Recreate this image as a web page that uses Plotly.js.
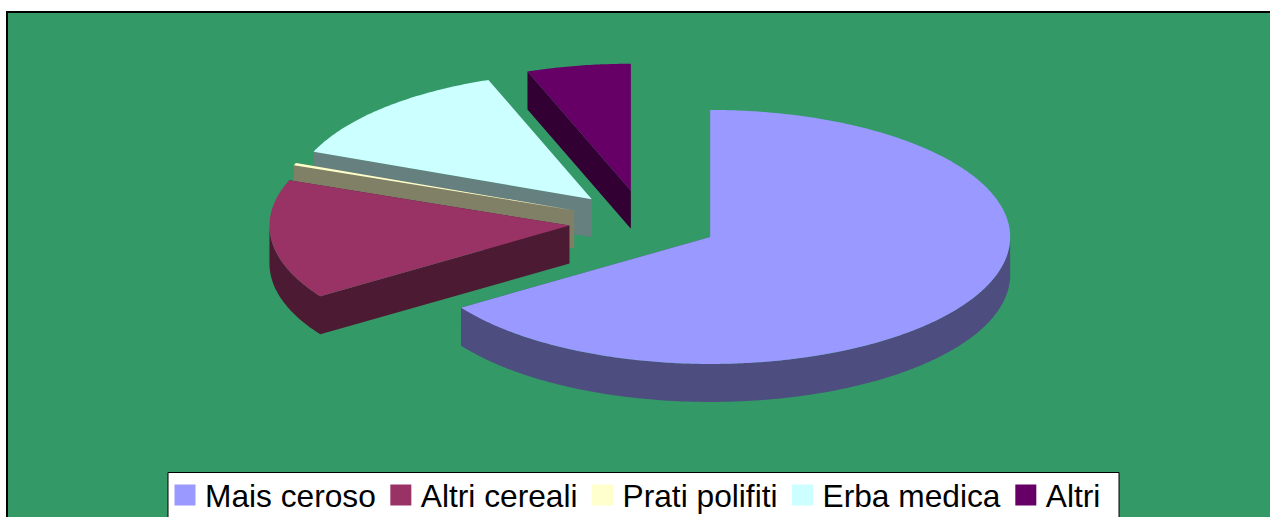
<!DOCTYPE html>
<html><head><meta charset="utf-8">
<script src="https://cdn.plot.ly/plotly-3.0.1.min.js"></script>
<style>html,body{margin:0;padding:0;background:#fff;overflow:hidden}</style>
</head><body><div id="chart" style="width:1270px;height:517px"></div>
<script>
const categories = ['Mais ceroso','Altri cereali','Prati polifiti','Erba medica','Altri'];
const values = [65.6,15.2,0.3,13.3,5.6];
const topColors = ['#9999FF','#993366','#FFFFCC','#CCFFFF','#660066'];
const wallColors = ['#4D4D80','#4D1A33','#808066','#668080','#330033'];
const drawOrder = [4,3,2,1,0];

// pie projection
const cx=644, cy=222, rx=300, ry=127, depth=38, explode=0.25;
const total = values.reduce((a,b)=>a+b,0);
const slices=[]; let acc=0;
values.forEach(v=>{const t0=acc/total*2*Math.PI; acc+=v; const t1=acc/total*2*Math.PI; const m=(t0+t1)/2;
  slices.push({t0,t1,ax:cx+explode*rx*Math.sin(m),ay:cy-explode*ry*Math.cos(m)});});
const rim=(s,t,d)=>[s.ax+rx*Math.sin(t), s.ay-ry*Math.cos(t)+(d||0)];
function arc(s,a,b,d){const out=[],n=Math.max(2,Math.ceil((b-a)/0.01));
  for(let i=0;i<=n;i++) out.push(rim(s,a+(b-a)*i/n,d)); return out;}
function toXY(paths){const x=[],y=[];paths.forEach((p,i)=>{if(i){x.push(null);y.push(null);}
  p.forEach(q=>{x.push(q[0]);y.push(q[1]);}); x.push(p[0][0]);y.push(p[0][1]);}); return {x,y};}

const traces=[];
drawOrder.forEach(i=>{const s=slices[i];
  const walls=[];
  [s.t0,s.t1].forEach(t=>{const r=rim(s,t);
    walls.push([[s.ax,s.ay],r,[r[0],r[1]+depth],[s.ax,s.ay+depth]]);});
  const a=Math.max(s.t0,Math.PI/2), b=Math.min(s.t1,Math.PI*1.5);
  if(b>a) walls.push(arc(s,a,b,0).concat(arc(s,a,b,depth).reverse()));
  traces.push(Object.assign({type:'scatter',mode:'none',fill:'toself',fillcolor:wallColors[i],showlegend:false,hoverinfo:'skip'},toXY(walls)));
  traces.push(Object.assign({type:'scatter',mode:'none',fill:'toself',fillcolor:topColors[i],showlegend:false,name:categories[i]},
    toXY([[[s.ax,s.ay]].concat(arc(s,s.t0,s.t1,0))])));
});
categories.forEach((c,i)=>traces.push({type:'scatter',mode:'markers',x:[null],y:[null],name:c,
  marker:{symbol:'square',size:16,color:topColors[i],line:{width:5,color:topColors[i]}},showlegend:true}));

const layout={width:1270,height:517,margin:{l:0,r:0,t:0,b:0,autoexpand:false},paper_bgcolor:'#fff',plot_bgcolor:'#fff',
  xaxis:{range:[0,1270],visible:false,fixedrange:true},
  yaxis:{range:[517,0],visible:false,fixedrange:true},
  shapes:[{type:'rect',xref:'x',yref:'y',x0:7,y0:12,x1:1275,y1:525,fillcolor:'#339966',line:{color:'#000',width:2},layer:'below'},
          {type:'rect',xref:'x',yref:'y',x0:168,y0:472.5,x1:1119,y1:525,fillcolor:'#fff',line:{color:'#000',width:1},layer:'below'}],
  font:{family:'"Liberation Sans",Arial,sans-serif',color:'#000'},
  legend:{orientation:'h',x:165/1270,xanchor:'left',y:(517-468)/517,yanchor:'top',bgcolor:'rgba(0,0,0,0)',borderwidth:0,
    font:{size:31.7,family:'"Liberation Sans",Arial,sans-serif',color:'#000'},itemsizing:'trace',itemwidth:30,traceorder:'normal'}};
Plotly.newPlot('chart',traces,layout,{displayModeBar:false,staticPlot:true});
</script></body></html>
